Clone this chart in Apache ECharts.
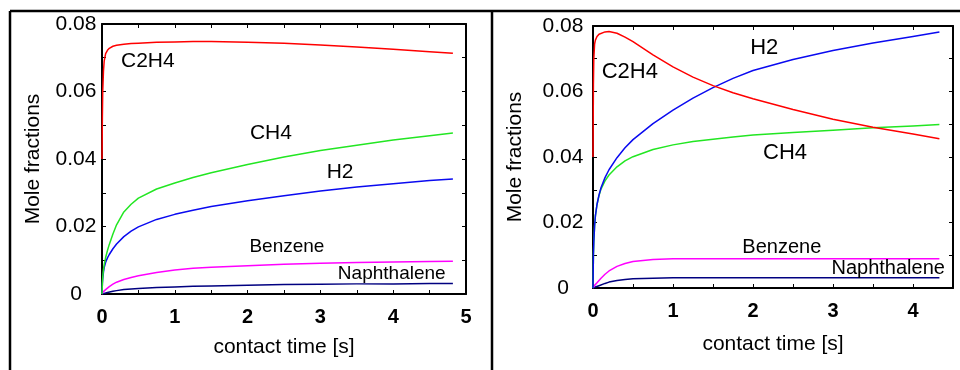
<!DOCTYPE html>
<html>
<head>
<meta charset="utf-8">
<script src="https://cdn.jsdelivr.net/npm/echarts@6/dist/echarts.min.js"></script>
<style>
  html, body { margin: 0; padding: 0; background: #fff; }
  #chart { width: 960px; height: 370px; }
</style>
</head>
<body>
<div id="chart"></div>
<script>
// left panel
const timeLeft = [0, 0.005, 0.01, 0.02, 0.03, 0.05, 0.075, 0.1, 0.15, 0.2, 0.3, 0.4, 0.5, 0.75, 1, 1.25, 1.5, 2, 2.5, 3, 3.5, 4, 4.5, 4.82];
const c2h4Left = [0.040, 0.052, 0.060, 0.066, 0.069, 0.0712, 0.0722, 0.0728, 0.0734, 0.0737, 0.0740, 0.0742, 0.0743, 0.0746, 0.0747, 0.0748, 0.0748, 0.0746, 0.0743, 0.0738, 0.0732, 0.0725, 0.0718, 0.0713];
const ch4Left = [0, 0.003, 0.005, 0.0072, 0.0087, 0.0108, 0.0129, 0.0147, 0.0178, 0.0205, 0.0243, 0.0266, 0.0284, 0.0311, 0.0329, 0.0345, 0.0359, 0.0384, 0.0406, 0.0425, 0.0441, 0.0456, 0.0469, 0.0477];
const h2Left = [0, 0.003, 0.0045, 0.0065, 0.0078, 0.0094, 0.0107, 0.0117, 0.0134, 0.0148, 0.0170, 0.0186, 0.0199, 0.0221, 0.0236, 0.0248, 0.0259, 0.0276, 0.0291, 0.0305, 0.0317, 0.0327, 0.0336, 0.0341];
const benzeneLeft = [0, 0.0002, 0.0004, 0.0007, 0.0009, 0.0013, 0.0018, 0.0022, 0.0029, 0.0035, 0.0043, 0.0049, 0.0054, 0.0064, 0.0071, 0.0076, 0.0079, 0.0084, 0.0088, 0.0091, 0.0093, 0.0095, 0.0096, 0.0097];
const naphLeft = [0, 0.00003, 0.00006, 0.0001, 0.00015, 0.0003, 0.00045, 0.0006, 0.0008, 0.001, 0.0013, 0.0015, 0.0016, 0.0019, 0.0021, 0.0023, 0.0024, 0.0026, 0.0028, 0.0029, 0.003, 0.003, 0.0031, 0.0031];

// right panel
const timeRight = [0, 0.005, 0.01, 0.02, 0.03, 0.05, 0.075, 0.1, 0.15, 0.2, 0.3, 0.4, 0.5, 0.75, 1, 1.25, 1.5, 1.75, 2, 2.5, 3, 3.5, 4, 4.33];
const c2h4Right = [0.040, 0.062, 0.070, 0.0745, 0.0757, 0.0768, 0.0775, 0.0779, 0.0782, 0.0783, 0.0778, 0.0766, 0.0752, 0.0712, 0.0675, 0.0644, 0.0618, 0.0596, 0.0578, 0.0545, 0.0515, 0.0491, 0.0470, 0.0456];
const h2Right = [0, 0.010, 0.014, 0.019, 0.022, 0.0255, 0.0284, 0.0306, 0.0337, 0.0361, 0.0398, 0.0428, 0.0453, 0.0502, 0.0543, 0.0580, 0.0612, 0.0640, 0.0664, 0.0698, 0.0725, 0.0748, 0.0768, 0.0782];
const ch4Right = [0, 0.010, 0.014, 0.019, 0.022, 0.0255, 0.0282, 0.0302, 0.0327, 0.0345, 0.0370, 0.0388, 0.0401, 0.0423, 0.0437, 0.0447, 0.0454, 0.0461, 0.0467, 0.0475, 0.0482, 0.0489, 0.0495, 0.0499];
const benzeneRight = [0, 0.0002, 0.0004, 0.0008, 0.0011, 0.0016, 0.0023, 0.003, 0.0042, 0.0052, 0.0066, 0.0075, 0.0081, 0.0087, 0.0089, 0.0089, 0.0089, 0.0089, 0.0089, 0.0089, 0.0089, 0.0089, 0.0089, 0.0089];
const naphRight = [0, 0.00003, 0.0001, 0.0002, 0.0003, 0.0005, 0.0007, 0.001, 0.0014, 0.0018, 0.0023, 0.0026, 0.0028, 0.003, 0.0031, 0.0031, 0.0031, 0.0031, 0.0031, 0.0031, 0.0031, 0.0031, 0.0031, 0.0031];

// label anchors [t, value]
const labelsLeft = { C2H4: [0.63, 0.069], CH4: [2.32, 0.0477], H2: [3.27, 0.0361], Benzene: [2.54, 0.0139], Naphthalene: [3.98, 0.0059] };
const labelsRight = { C2H4: [0.46, 0.066], CH4: [2.4, 0.0412], H2: [2.14, 0.0733], Benzene: [2.36, 0.0125], Naphthalene: [3.69, 0.0061] };

const FONT = "Liberation Sans";
const colors = { C2H4: "#ff0000", CH4: "#22e622", H2: "#0a0af0", Benzene: "#ff00ff", Naphthalene: "#000080" };

const pairs = (ts, vs) => ts.map((t, i) => [t, vs[i]]);

const makeSeries = (name, ts, vs, anchor, idx, fontSize) => ({
  name: name,
  type: "line",
  xAxisIndex: idx * 2,
  yAxisIndex: idx * 2,
  data: pairs(ts, vs),
  showSymbol: false,
  smooth: false,
  lineStyle: { color: colors[name], width: 1.5, join: "round" },
  silent: true,
  z: 3,
  markPoint: {
    symbol: "circle",
    symbolSize: 0,
    data: [{ coord: anchor }],
    label: {
      show: true,
      position: "inside",
      formatter: name,
      color: "#000",
      fontFamily: FONT,
      fontSize: fontSize,
    },
  },
});

const xLabelFmt = v => (Math.abs(v - Math.round(v)) < 1e-6 ? String(Math.round(v)) : "");
const yLabelFmt = v => {
  const k = Math.round(v * 100);
  if (k % 2 !== 0) return "";
  return k === 0 ? "0" : v.toFixed(2);
};

const axisLine = { show: true, onZero: false, lineStyle: { color: "#000", width: 2 } };
const tick = { show: true, inside: true, length: 4, lineStyle: { color: "#000", width: 1 } };

const makeAxes = (gridIndex, xMax, xGap, yMargin, yGap) => {
  const x = [
    {
      type: "value", gridIndex, min: 0, max: xMax, interval: 0.5, position: "bottom",
      axisLine, axisTick: tick, splitLine: { show: false },
      axisLabel: { formatter: xLabelFmt, color: "#000", fontFamily: FONT, fontWeight: "bold", fontSize: 20, margin: 13 },
      name: "contact time [s]", nameLocation: "middle", nameGap: xGap,
      nameTextStyle: { color: "#000", fontFamily: FONT, fontSize: 21 },
    },
    {
      type: "value", gridIndex, min: 0, max: xMax, interval: 0.5, position: "top",
      axisLine, axisTick: tick, axisLabel: { show: false }, splitLine: { show: false },
    },
  ];
  const y = [
    {
      type: "value", gridIndex, min: 0, max: 0.08, interval: 0.01, position: "left",
      axisLine, axisTick: tick, splitLine: { show: false },
      axisLabel: { formatter: yLabelFmt, color: "#000", fontFamily: FONT, fontSize: 21, align: "center", margin: yMargin },
      name: "Mole fractions", nameLocation: "middle", nameGap: yGap,
      nameTextStyle: { color: "#000", fontFamily: FONT, fontSize: 21 },
    },
    {
      type: "value", gridIndex, min: 0, max: 0.08, interval: 0.01, position: "right",
      axisLine, axisTick: tick, axisLabel: { show: false }, splitLine: { show: false },
    },
  ];
  return { x, y };
};

const left = makeAxes(0, 5, 43, 26, 58);
const right = makeAxes(1, 4.5, 46, 30, 67);

const frame = { stroke: "#000", lineWidth: 2.5 };

const option = {
  animation: false,
  backgroundColor: "#fff",
  grid: [
    { left: 102, top: 24, width: 364, height: 270 },
    { left: 593, top: 26, width: 360, height: 262 },
  ],
  xAxis: [...left.x, ...right.x],
  yAxis: [...left.y, ...right.y],
  graphic: [
    { type: "line", shape: { x1: 10, y1: 11, x2: 960, y2: 11 }, style: frame },
    { type: "line", shape: { x1: 10, y1: 11, x2: 10, y2: 370 }, style: frame },
    { type: "line", shape: { x1: 492, y1: 11, x2: 492, y2: 370 }, style: frame },
  ],
  series: [
    makeSeries("Naphthalene", timeLeft, naphLeft, labelsLeft.Naphthalene, 0, 19),
    makeSeries("Benzene", timeLeft, benzeneLeft, labelsLeft.Benzene, 0, 19),
    makeSeries("H2", timeLeft, h2Left, labelsLeft.H2, 0, 21),
    makeSeries("CH4", timeLeft, ch4Left, labelsLeft.CH4, 0, 21),
    makeSeries("C2H4", timeLeft, c2h4Left, labelsLeft.C2H4, 0, 21),
    makeSeries("Naphthalene", timeRight, naphRight, labelsRight.Naphthalene, 1, 20),
    makeSeries("Benzene", timeRight, benzeneRight, labelsRight.Benzene, 1, 20),
    makeSeries("CH4", timeRight, ch4Right, labelsRight.CH4, 1, 22),
    makeSeries("H2", timeRight, h2Right, labelsRight.H2, 1, 22),
    makeSeries("C2H4", timeRight, c2h4Right, labelsRight.C2H4, 1, 22),
  ],
};

const chart = echarts.init(document.getElementById("chart"), null, { renderer: "canvas" });
chart.setOption(option);
window.addEventListener("resize", () => chart.resize());
</script>
</body>
</html>
